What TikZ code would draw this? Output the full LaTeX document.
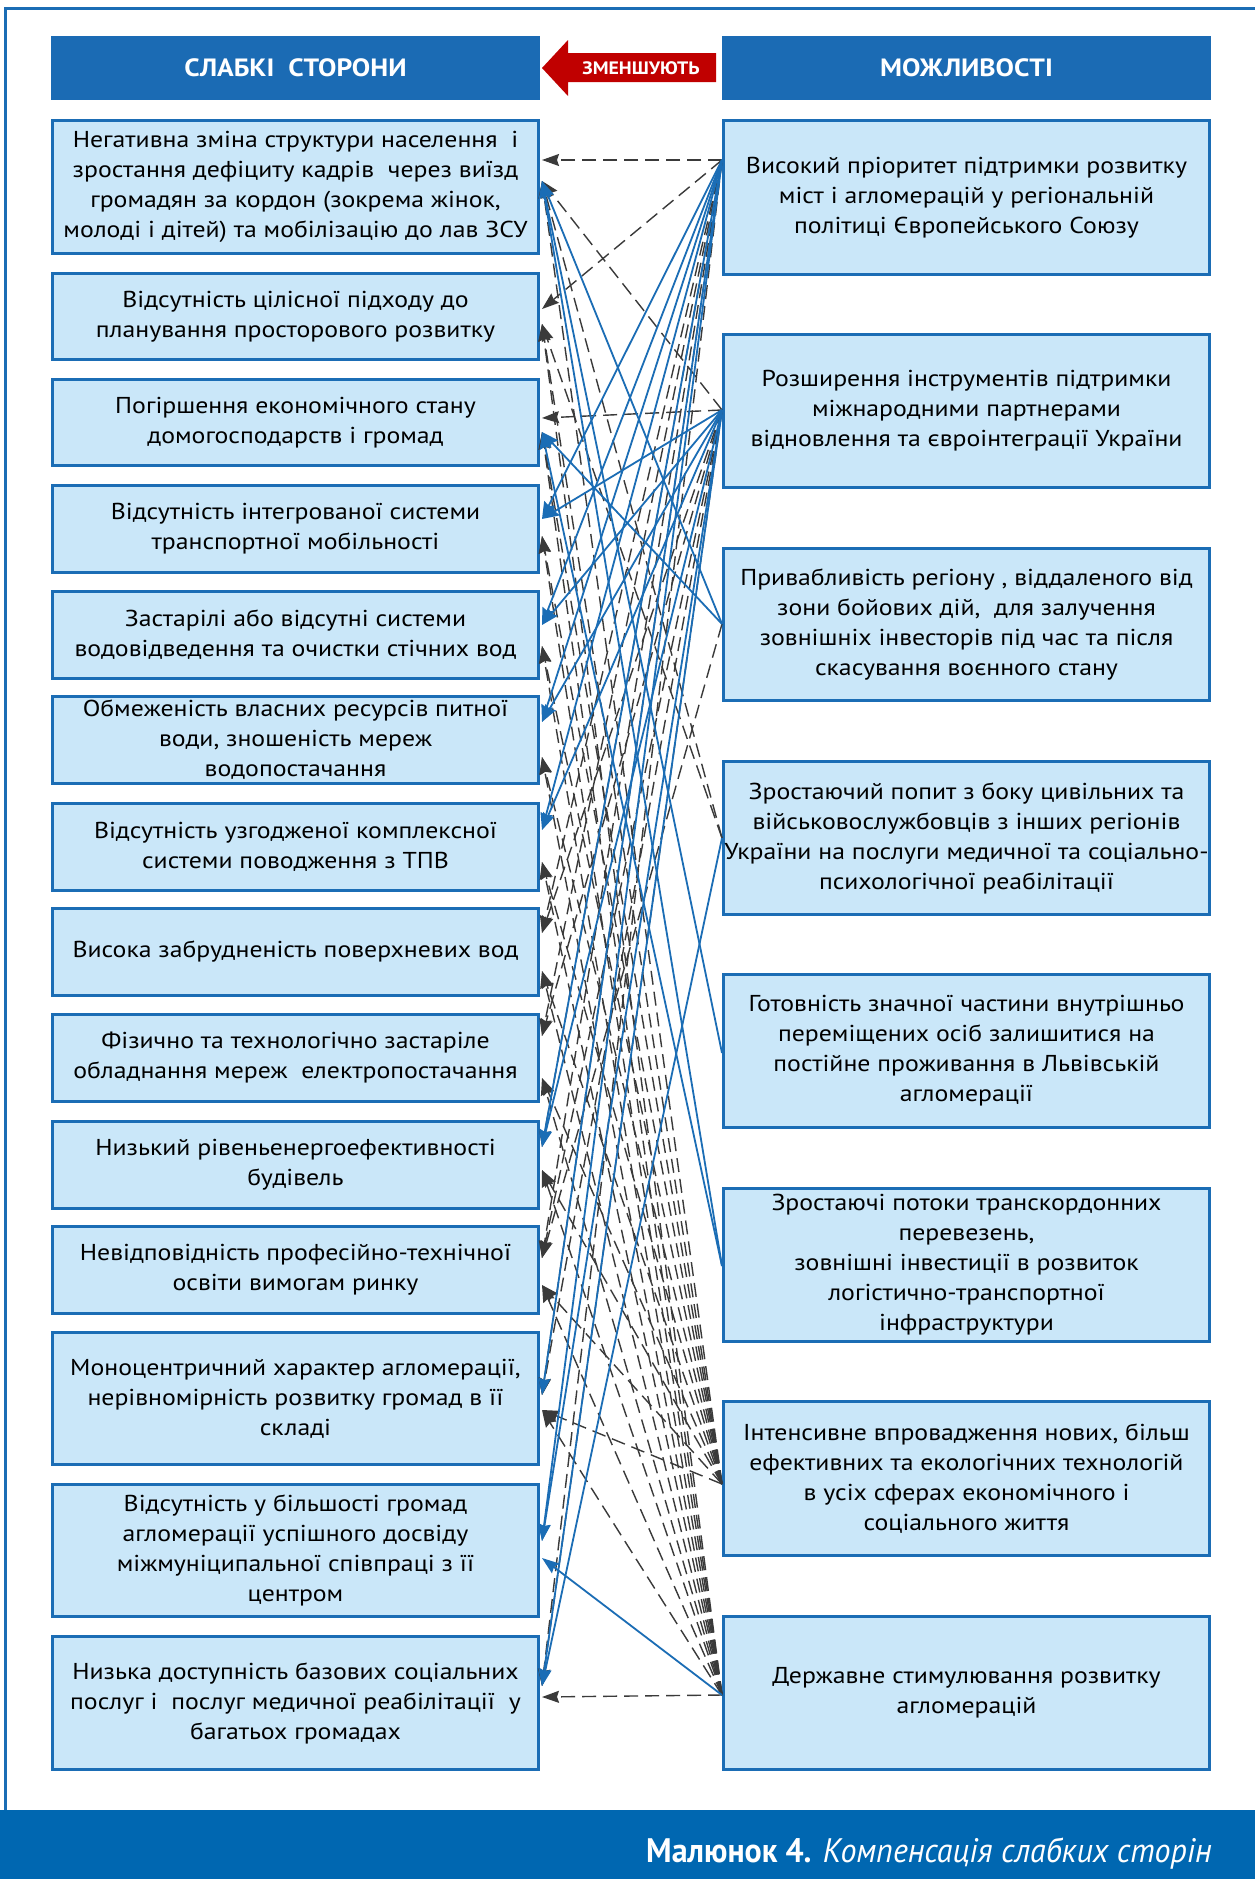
\documentclass[tikz,border=0pt]{standalone}
\usepackage{fontspec}
\setmainfont{PT Sans}
\newfontfamily\bodyfont[FakeStretch=1.12]{PT Sans}
\newfontfamily\headfont[FakeStretch=1.1]{PT Sans}
\newfontfamily\footfont[FakeStretch=0.94]{PT Sans}
\usetikzlibrary{arrows.meta}
\definecolor{hblue}{RGB}{27,107,180}
\definecolor{footblue}{RGB}{0,103,177}
\definecolor{boxfill}{RGB}{202,231,249}
\definecolor{bordblue}{RGB}{27,109,181}
\definecolor{lblue}{RGB}{27,109,181}
\definecolor{dgray}{RGB}{58,58,58}
\definecolor{redc}{RGB}{192,0,0}
\newcommand\bodyfs{\bodyfont\fontsize{23pt}{30pt}\selectfont}
\begin{document}
\begin{tikzpicture}[x=1pt,y=-1pt]
\tikzset{
 wbox/.style={draw=bordblue, line width=3pt, fill=boxfill, minimum width=486pt, align=center, font=\bodyfs, inner sep=0pt},
 hbox/.style={fill=hblue, minimum width=489pt, minimum height=64pt, text=white, inner sep=0pt, font=\headfont\bfseries\fontsize{25pt}{28pt}\selectfont},
 bline/.style={draw=lblue, line width=1.8pt, -{Stealth[length=17pt,width=12pt,inset=2pt]}},
 dline/.style={draw=dgray, line width=1.4pt, dash pattern=on 14pt off 7pt, -{Stealth[length=17pt,width=12pt,inset=2pt]}},
}
\useasboundingbox (0,0) rectangle (1255,1879);
\fill[white] (0,0) rectangle (1255,1879);
% frame
\draw[bordblue, line width=3pt] (5,1810) -- (5,8) -- (1255,8);
\fill[footblue] (0,1810) rectangle (1255,1879);
\node[anchor=base east, text=white, inner sep=0pt, font=\footfont\fontsize{34pt}{36pt}\selectfont] (cap) at (1212,1862) {\textbf{Малюнок 4.} \textit{Компенсація слабких сторін}};
% headers
\node[hbox] (HL) at (295.5,68) {СЛАБКІ\ \ СТОРОНИ};
\node[hbox] (HR) at (966.5,68) {МОЖЛИВОСТІ};
\fill[redc] (542,68) -- (568,40) -- (568,53) -- (716,53) -- (716,82) -- (568,82) -- (568,96) -- cycle;
\node[text=white, inner sep=0pt, font=\headfont\bfseries\fontsize{18pt}{22pt}\selectfont] (red) at (641,68) {ЗМЕНШУЮТЬ};
% weaknesses
\node[wbox, minimum height=133pt] (W1) at (295.5,187) {Негативна зміна структури населення \ і\\ зростання дефіциту кадрів \ через виїзд\\ громадян за кордон (зокрема жінок,\\ молоді і дітей) та мобілізацію до лав ЗСУ};
\node[wbox, minimum height=86pt] (W2) at (295.5,316.5) {Відсутність цілісної підходу до\\ планування просторового розвитку};
\node[wbox, minimum height=86pt] (W3) at (295.5,422.5) {Погіршення економічного стану\\ домогосподарств і громад};
\node[wbox, minimum height=87pt] (W4) at (295.5,529) {Відсутність інтегрованої системи\\ транспортної мобільності};
\node[wbox, minimum height=87pt] (W5) at (295.5,635) {Застарілі або відсутні системи\\ водовідведення та очистки стічних вод};
\node[wbox, minimum height=87pt] (W6) at (295.5,740) {Обмеженість власних ресурсів питної\\ води, зношеність мереж\\ водопостачання};
\node[wbox, minimum height=87pt] (W7) at (295.5,847) {Відсутність узгодженої комплексної\\ системи поводження з ТПВ};
\node[wbox, minimum height=87pt] (W8) at (295.5,952) {Висока забрудненість поверхневих вод};
\node[wbox, minimum height=87pt] (W9) at (295.5,1058) {Фізично та технологічно застаріле\\ обладнання мереж \ електропостачання};
\node[wbox, minimum height=87pt] (W10) at (295.5,1165) {Низький рівеньенергоефективності\\ будівель};
\node[wbox, minimum height=87pt] (W11) at (295.5,1270) {Невідповідність професійно-технічної\\ освіти вимогам ринку};
\node[wbox, minimum height=132pt] (W12) at (295.5,1398.5) {Моноцентричний характер агломерації,\\ нерівномірність розвитку громад в її\\ складі};
\node[wbox, minimum height=132pt] (W13) at (295.5,1550.5) {Відсутність у більшості громад\\ агломерації успішного досвіду\\ міжмуніципальної співпраці з її\\ центром};
\node[wbox, minimum height=133pt] (W14) at (295.5,1703) {Низька доступність базових соціальних\\ послуг і \ послуг медичної реабілітації \ у\\ багатьох громадах};
% opportunities
\node[wbox, minimum height=154pt] (O1) at (966.5,197.5) {Високий пріоритет підтримки розвитку\\ міст і агломерацій у регіональній\\ політиці Європейського Союзу};
\node[wbox, minimum height=153pt] (O2) at (966.5,411) {Розширення інструментів підтримки\\ міжнародними партнерами\\ відновлення та євроінтеграції України};
\node[wbox, minimum height=152pt] (O3) at (966.5,624.5) {Привабливість регіону , віддаленого від\\ зони бойових дій, \ для залучення\\ зовнішніх інвесторів під час та після\\ скасування воєнного стану};
\node[wbox, minimum height=153pt] (O4) at (966.5,838) {Зростаючий попит з боку цивільних та\\ військовослужбовців з інших регіонів\\ України на послуги медичної та соціально-\\ психологічної реабілітації};
\node[wbox, minimum height=153pt] (O5) at (966.5,1051) {Готовність значної частини внутрішньо\\ переміщених осіб залишитися на\\ постійне проживання в Львівській\\ агломерації};
\node[wbox, minimum height=153pt] (O6) at (966.5,1265) {Зростаючі потоки транскордонних\\ перевезень,\\ зовнішні інвестиції в розвиток\\ логістично-транспортної\\ інфраструктури};
\node[wbox, minimum height=154pt] (O7) at (966.5,1478.5) {Інтенсивне впровадження нових, більш\\ ефективних та екологічних технологій\\ в усіх сферах економічного і\\ соціального життя};
\node[wbox, minimum height=153pt] (O8) at (966.5,1693) {Державне стимулювання розвитку\\ агломерацій};
% sources
\coordinate (O1s) at (722,160);
\coordinate (O2s) at (722,410);
\coordinate (O3s) at (722,624);
\coordinate (O4s) at (722,838);
\coordinate (O5s) at (722,1053);
\coordinate (O6s) at (722,1266);
\coordinate (O7s) at (722,1484);
\coordinate (O8s) at (722,1695);
% targets
\foreach \n/\a/\b in {1/160/181,2/309/324,3/418/432,4/519/536,5/625/646,6/722/757,7/830/862,8/933/971,9/1036/1078,10/1147/1170,11/1258/1285,12/1395/1410,13/1541/1558,14/1686/1697}{
  \coordinate (W\n a) at (542,\a);
  \coordinate (W\n b) at (542,\b);
}
% dashed connectors
\foreach \s/\t in {O1s/W1a,O1s/W2a,O1s/W8a,O1s/W9a,O1s/W10a,O1s/W11a,O1s/W12a,O1s/W14a,
  O2s/W1b,O2s/W3a,O2s/W8a,O2s/W9a,O2s/W11a,O2s/W12a,O2s/W14a,
  O3s/W11a,O4s/W1b,O4s/W2b,
  O7s/W1b,O7s/W2b,O7s/W3b,O7s/W4b,O7s/W5b,O7s/W6b,O7s/W7b,O7s/W8b,O7s/W9b,O7s/W10b,O7s/W11b,O7s/W12b,
  O8s/W2b,O8s/W3b,O8s/W4b,O8s/W5b,O8s/W6b,O8s/W7b,O8s/W8b,O8s/W9b,O8s/W10b,O8s/W11b,O8s/W12b,O8s/W14b}{
  \draw[dline] (\s) -- (\t);
}
% blue connectors
\foreach \s/\t in {O1s/W4a,O1s/W5a,O1s/W6a,O1s/W7a,O1s/W10a,O1s/W12a,O1s/W13a,
  O2s/W4a,O2s/W5a,O2s/W6a,O2s/W7a,O2s/W10a,O2s/W13a,O2s/W14a,
  O3s/W1b,O3s/W3b,O4s/W14a,O5s/W1b,O6s/W1b,O6s/W3b,O8s/W13b}{
  \draw[bline] (\s) -- (\t);
}
\end{tikzpicture}
\end{document}
